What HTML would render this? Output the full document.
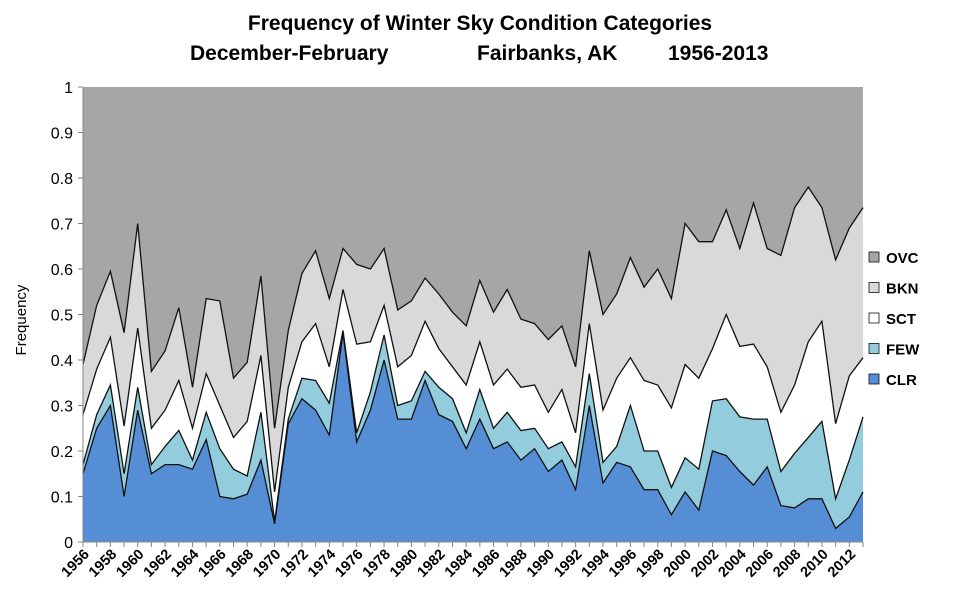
<!DOCTYPE html>
<html><head><meta charset="utf-8"><style>
body{margin:0;background:#fff;font-family:"Liberation Sans",Arial,sans-serif;}
svg text{font-family:"Liberation Sans",Arial,sans-serif;}
</style></head><body>
<svg id="chart" width="959" height="600">
<text x="480" y="30" text-anchor="middle" font-size="21" font-weight="bold">Frequency of Winter Sky Condition Categories</text>
<text x="190" y="60" font-size="21" font-weight="bold">December-February</text>
<text x="477" y="60" font-size="21" font-weight="bold">Fairbanks, AK</text>
<text x="668" y="60" font-size="21" font-weight="bold">1956-2013</text>
<text transform="translate(26,320) rotate(-90)" text-anchor="middle" font-size="15">Frequency</text>
<g id="plot"></g>
<g id="axes"></g>
<g id="legend"></g>
</svg>
<script>
const years=[];for(let y=1956;y<=2013;y++)years.push(y);
// cumulative stacked tops
const clr=[0.15,0.25,0.30,0.10,0.29,0.15,0.17,0.17,0.16,0.225,0.10,0.095,0.105,0.18,0.04,0.26,0.315,0.29,0.235,0.46,0.22,0.29,0.40,0.27,0.27,0.355,0.28,0.265,0.205,0.27,0.205,0.22,0.18,0.205,0.155,0.18,0.115,0.30,0.13,0.175,0.165,0.115,0.115,0.06,0.11,0.07,0.20,0.19,0.155,0.125,0.165,0.08,0.075,0.095,0.095,0.03,0.055,0.11];
const few=[0.17,0.28,0.345,0.15,0.34,0.17,0.21,0.245,0.18,0.285,0.205,0.16,0.145,0.285,0.045,0.27,0.36,0.355,0.305,0.465,0.24,0.33,0.455,0.30,0.31,0.375,0.34,0.315,0.24,0.335,0.25,0.285,0.245,0.25,0.205,0.22,0.165,0.37,0.175,0.21,0.30,0.20,0.20,0.12,0.185,0.16,0.31,0.315,0.275,0.27,0.27,0.155,0.195,0.23,0.265,0.095,0.18,0.275];
const sct=[0.28,0.38,0.45,0.255,0.47,0.25,0.29,0.355,0.25,0.37,0.30,0.23,0.265,0.41,0.11,0.34,0.44,0.48,0.385,0.555,0.435,0.44,0.52,0.385,0.41,0.485,0.425,0.385,0.345,0.44,0.345,0.38,0.34,0.345,0.285,0.335,0.24,0.48,0.29,0.36,0.405,0.355,0.345,0.295,0.39,0.36,0.425,0.50,0.43,0.435,0.385,0.285,0.345,0.44,0.485,0.26,0.365,0.405];
const bkn=[0.39,0.52,0.595,0.46,0.70,0.375,0.42,0.515,0.34,0.535,0.53,0.36,0.395,0.585,0.25,0.465,0.59,0.64,0.535,0.645,0.61,0.60,0.645,0.51,0.53,0.58,0.545,0.505,0.475,0.575,0.505,0.555,0.49,0.48,0.445,0.475,0.385,0.64,0.50,0.545,0.625,0.56,0.60,0.535,0.70,0.66,0.66,0.73,0.645,0.745,0.645,0.63,0.735,0.78,0.735,0.62,0.69,0.735];
const ovc=years.map(()=>1);
const yTicks=[0,0.1,0.2,0.3,0.4,0.5,0.6,0.7,0.8,0.9,1];
const names=["CLR","FEW","SCT","BKN","OVC"];
const colors=["#558ed5","#93cddd","#ffffff","#d9d9d9","#a6a6a6"];
const L=83,R=863,T=87,B=542;
const X=i=>L+(R-L)*i/(years.length-1);
const Y=v=>B-(B-T)*v;
const NS="http://www.w3.org/2000/svg";
const plot=document.getElementById('plot'),axes=document.getElementById('axes'),leg=document.getElementById('legend');
function mk(t,a,p){const e=document.createElementNS(NS,t);for(const k in a)e.setAttribute(k,a[k]);p.appendChild(e);return e;}
const tops=[clr,few,sct,bkn,ovc];
for(let s=4;s>=0;s--){
  const top=tops[s];
  let d="M"+X(0)+","+Y(0);
  top.forEach((v,i)=>d+=" L"+X(i).toFixed(1)+","+Y(v).toFixed(1));
  d+=" L"+X(years.length-1)+","+Y(0)+" Z";
  const p=mk('path',{d:d,fill:colors[s],stroke:'none'},plot);
  
  
}
for(let s=0;s<4;s++){
  const pts=tops[s].map((v,i)=>X(i).toFixed(1)+","+Y(v).toFixed(1)).join(" ");
  const l=mk('polyline',{points:pts,fill:'none',stroke:'#111','stroke-width':1.3},plot);
  
  
}
mk('line',{x1:L,y1:T,x2:L,y2:B,stroke:'#868686'},axes);
mk('line',{x1:L,y1:B,x2:R,y2:B,stroke:'#868686'},axes);
yTicks.forEach(v=>{
  mk('line',{x1:L-5,y1:Y(v),x2:L,y2:Y(v),stroke:'#868686'},axes);
  const t=mk('text',{x:L-10,y:Y(v)+6,'text-anchor':'end','font-size':16},axes);
  t.textContent=String(v);
  
  
});
years.forEach((yr,i)=>{
  mk('line',{x1:X(i),y1:B,x2:X(i),y2:B+5,stroke:'#868686'},axes);
  if(i%2===0){
    const t=mk('text',{transform:`translate(${X(i)+7},${B+13}) rotate(-45)`,'text-anchor':'end','font-size':14.5,'font-weight':'bold'},axes);
    t.textContent=yr;
    
    
  }
});
for(let s=4;s>=0;s--){
  const y=258+(4-s)*30.5;
  const g=mk('g',{},leg);
  
  
  mk('rect',{x:869,y:y-6,width:10,height:10,fill:colors[s],stroke:'#111','stroke-width':0.8},g);
  const t=mk('text',{x:886,y:y+5,'font-size':15,'font-weight':'bold'},g);
  t.textContent=names[s];
}
</script>
</body></html>
